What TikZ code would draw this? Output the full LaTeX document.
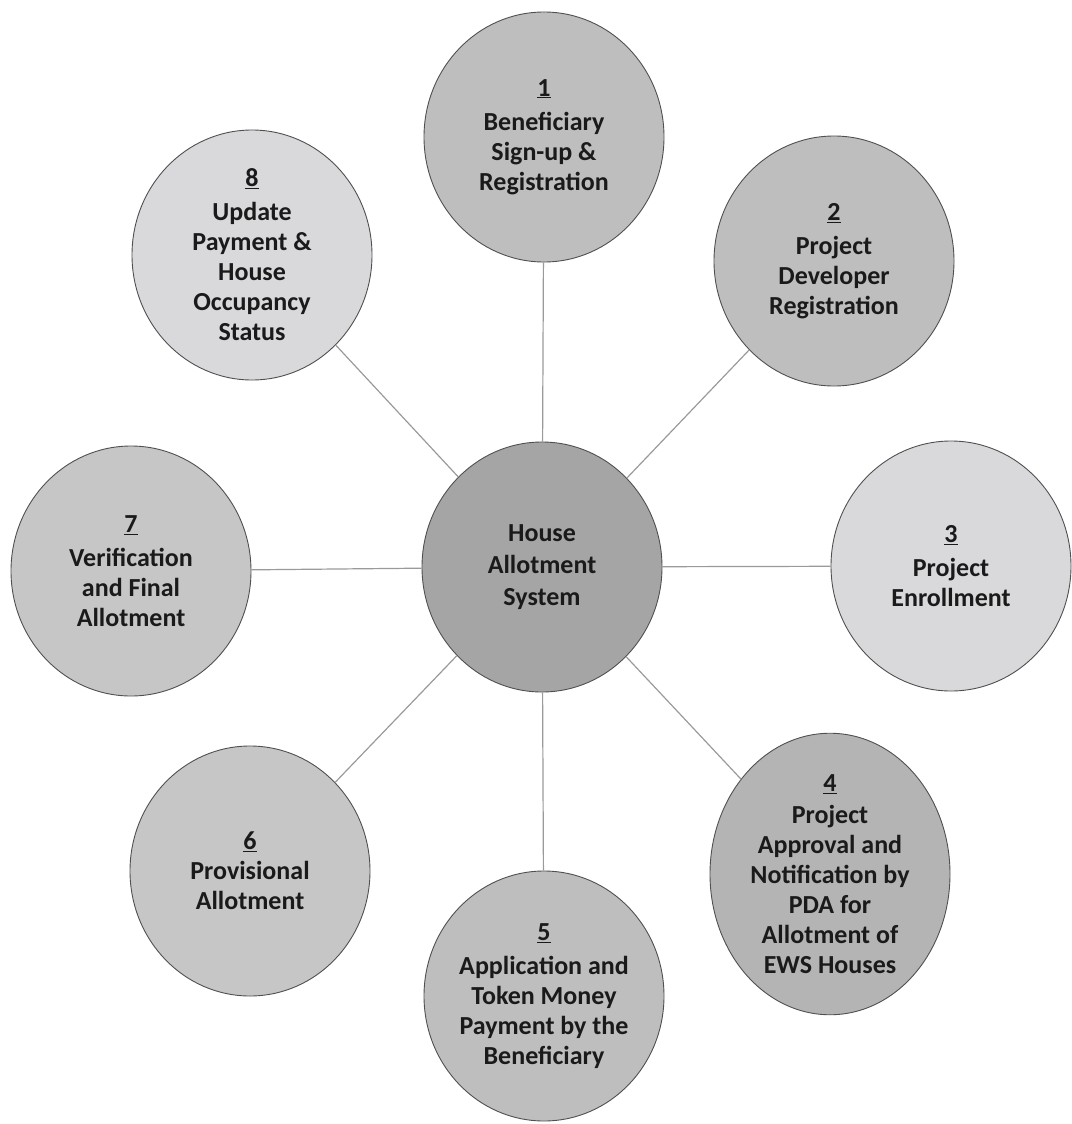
\documentclass[tikz,border=0pt]{standalone}
\usepackage{fontspec,tikz}
\setmainfont{Carlito}
\usetikzlibrary{shapes.geometric}
\definecolor{ink}{HTML}{1A1A1A}
\definecolor{rim}{HTML}{505050}
\definecolor{spoke}{HTML}{9A9A9A}
\definecolor{hubgray}{HTML}{A5A5A5}
\definecolor{midgray}{HTML}{BEBEBE}
\definecolor{darkgray}{HTML}{B4B4B4}
\definecolor{softgray}{HTML}{C6C6C6}
\definecolor{palegray}{HTML}{D9D9DC}
\begin{document}
\begin{tikzpicture}[x=1pt,y=-1pt,font=\bfseries\fontsize{26}{30}\selectfont,stage/.style={ellipse,draw=rim,line width=.9pt,minimum width=240pt,minimum height=250pt,align=center,inner sep=0pt,text=ink},link/.style={draw=spoke,line width=1.2pt}]
\useasboundingbox (0,0) rectangle (1071,1124);
\node[stage,fill=hubgray,font=\bfseries\fontsize{26}{32}\selectfont] (hub) at (542,567) {House\\Allotment\\System};
\node[stage,fill=midgray] (signup) at (544,137) {\underline{1}\\[4pt]Beneficiary\\Sign-up \&\\Registration};
\node[stage,fill=midgray] (developer) at (834,261) {\underline{2}\\[4pt]Project\\Developer\\Registration};
\node[stage,fill=palegray] (enrol) at (951,566) {\underline{3}\\[4pt]Project\\Enrollment};
\node[stage,fill=darkgray] (approval) at (830,874) {\underline{4}\\[2pt]Project\\Approval and\\Notification by\\PDA for\\Allotment of\\EWS Houses};
\node[stage,fill=midgray] (application) at (544,996) {\underline{5}\\[4pt]Application and\\Token Money\\Payment by the\\Beneficiary};
\node[stage,fill=softgray] (provisional) at (250,871) {\underline{6}\\Provisional\\Allotment};
\node[stage,fill=softgray] (final) at (131,571) {\underline{7}\\[4pt]Verification\\and Final\\Allotment};
\node[stage,fill=palegray] (update) at (252,255) {\underline{8}\\[4pt]Update\\Payment \&\\House\\Occupancy\\Status};
\draw[link] (hub) -- (signup);
\draw[link] (hub) -- (developer);
\draw[link] (hub) -- (enrol);
\draw[link] (hub) -- (approval);
\draw[link] (hub) -- (application);
\draw[link] (hub) -- (provisional);
\draw[link] (hub) -- (final);
\draw[link] (hub) -- (update);
\end{tikzpicture}
\end{document}
